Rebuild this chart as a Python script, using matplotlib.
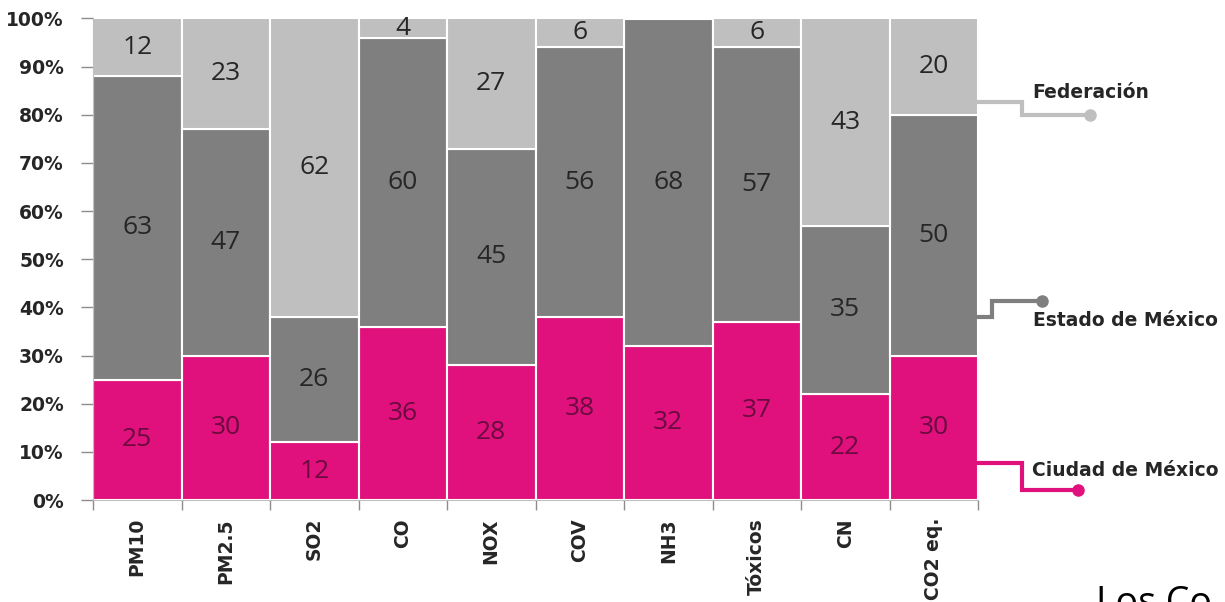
import matplotlib
matplotlib.use("Agg")
import matplotlib.pyplot as plt
import numpy as np
from matplotlib.lines import Line2D

categories = ["PM10", "PM2.5", "SO2", "CO", "NOX", "COV", "NH3", "Tóxicos", "CN", "CO2 eq."]
ciudad = [25, 30, 12, 36, 28, 38, 32, 37, 22, 30]
estado = [63, 47, 26, 60, 45, 56, 68, 57, 35, 50]
federacion = [12, 23, 62, 4, 27, 6, 0, 6, 43, 20]
series_names = ["Ciudad de México", "Estado de México", "Federación"]
yticks = [0, 10, 20, 30, 40, 50, 60, 70, 80, 90, 100]

colors = ["#E0117D", "#7F7F7F", "#BFBFBF"]
label_colors = ["#6A0A3E", "#262626", "#262626"]

W, H = 1225, 602
fig = plt.figure(figsize=(W / 100, H / 100), dpi=100)
ax_left, ax_right, ax_bot, ax_top = 93, 978, 500, 18.5
ax = fig.add_axes([ax_left / W, 1 - ax_bot / H, (ax_right - ax_left) / W, (ax_bot - ax_top) / H])

x = np.arange(len(categories))
bottom = np.zeros(len(categories))
for vals, col, lcol in zip([ciudad, estado, federacion], colors, label_colors):
    vals = np.array(vals, dtype=float)
    ax.bar(x, vals, width=1.0, bottom=bottom, color=col, edgecolor="white", linewidth=1.5, zorder=2)
    for xi, v, b in zip(x, vals, bottom):
        if v > 0:
            ax.text(xi, b + v / 2, f"{int(v)}", ha="center", va="center", fontsize=19,
                    family="Open Sans", color=lcol, zorder=3)
    bottom += vals

ax.set_xlim(-0.5, len(categories) - 0.5)
ax.set_ylim(0, 100)
ax.set_yticks(yticks)
ax.set_yticklabels([f"{t}%" for t in yticks], fontsize=13.5, fontweight="bold",
                   family="DejaVu Sans", color="#262626")
ax.tick_params(axis="y", length=9, width=1, color="#8c8c8c", pad=12)

ax.set_xticks(x)
ax.set_xticklabels(categories, rotation=90, fontsize=13.5, fontweight="bold",
                   family="DejaVu Sans", color="#262626", va="top")
ax.tick_params(axis="x", which="major", length=0, pad=13)
ax.set_xticks(np.arange(-0.5, len(categories)), minor=True)
ax.tick_params(axis="x", which="minor", length=7, width=1, color="#8c8c8c")

for s in ["top", "right"]:
    ax.spines[s].set_visible(False)
ax.spines["left"].set_color("#bfbfbf")
ax.spines["bottom"].set_color("#bfbfbf")

def fx(px):
    return px / W

def fy(py):
    return 1 - py / H

def connector(pts, color, text, tx, ty):
    xs = [fx(p[0]) for p in pts]
    ys = [fy(p[1]) for p in pts]
    fig.add_artist(Line2D(xs, ys, transform=fig.transFigure, color=color, lw=3,
                          solid_joinstyle="miter"))
    fig.add_artist(Line2D([xs[-1]], [ys[-1]], transform=fig.transFigure, marker="o",
                          markersize=8, color=color, lw=0))
    fig.text(fx(tx), fy(ty), text, ha="left", va="center", fontsize=13.5,
             fontweight="bold", family="DejaVu Sans", color="#262626")

connector([(978, 102), (1022, 102), (1022, 115), (1090, 115)], colors[2], series_names[2], 1032, 92)
connector([(978, 317), (992, 317), (992, 301), (1042, 301)], colors[1], series_names[1], 1033, 321)
connector([(978, 463), (1022, 463), (1022, 490), (1078, 490)], colors[0], series_names[0], 1032, 471)

fig.text(fx(1096), fy(614), "Los Co", ha="left", va="baseline", fontsize=27,
         family="Open Sans", color="black")

fig.savefig("out.png", dpi=100)
